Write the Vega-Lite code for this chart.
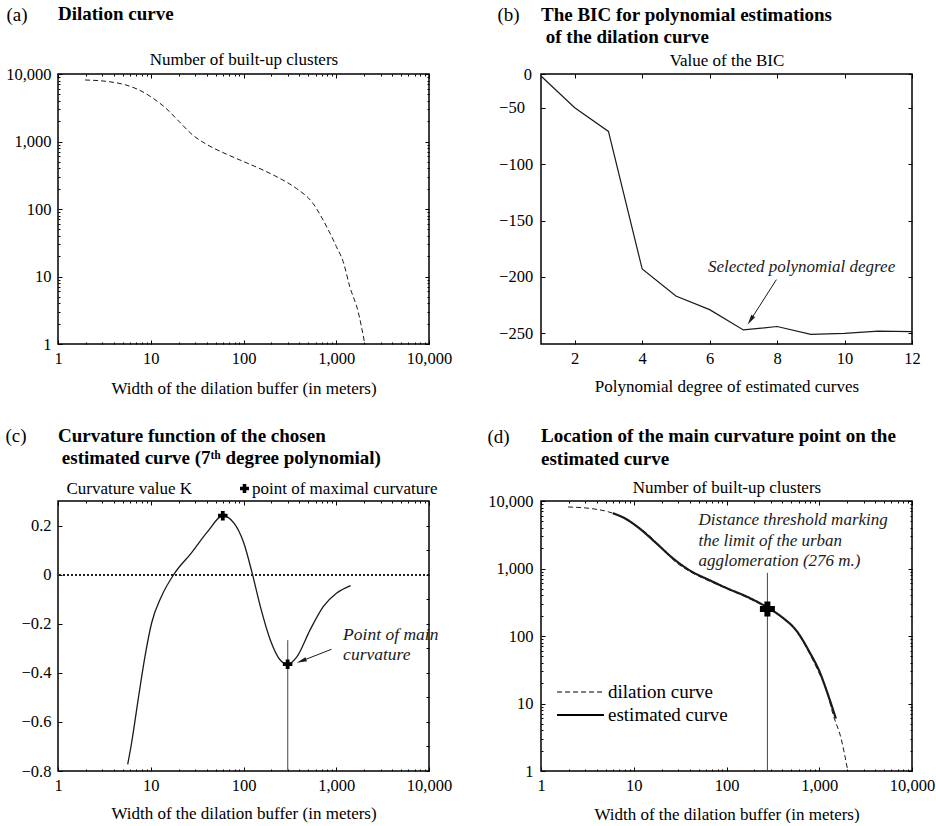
{
"$schema": "https://vega.github.io/schema/vega-lite/v6.json",
"padding": {"left": 4, "top": 4, "right": 0, "bottom": 0},
"background": "white",
"columns": 2,
"spacing": {"row": 157, "column": 112},
"bounds": "flush",
"align": "all",
"datasets": {
 "dilation": [{"w":1.96,"n":8150},{"w":3.56,"n":7690},{"w":5.39,"n":6880},{"w":7.5,"n":5790},{"w":10,"n":4610},{"w":14.6,"n":3100},{"w":20.3,"n":1967},{"w":28.3,"n":1248},{"w":39.4,"n":918},{"w":65,"n":653},{"w":101,"n":502},{"w":162,"n":378},{"w":245,"n":285},{"w":371,"n":202},{"w":562,"n":121},{"w":721,"n":68.8},{"w":1004,"n":27.7},{"w":1187,"n":16.6},{"w":1400,"n":7.06},{"w":1722,"n":3.01},{"w":2033,"n":1}],
 "estimated": [{"w":5.94,"n":6600},{"w":8.28,"n":5400},{"w":11.5,"n":3930},{"w":17.5,"n":2370},{"w":26.4,"n":1420},{"w":40,"n":940},{"w":65.8,"n":670},{"w":99.5,"n":515},{"w":164,"n":385},{"w":285,"n":258},{"w":407,"n":185},{"w":567,"n":120},{"w":790,"n":57},{"w":1014,"n":29},{"w":1247,"n":13.3},{"w":1510,"n":6}],
 "bic": [{"d":1,"bic":-3},{"d":2,"bic":-50},{"d":3,"bic":-71},{"d":4,"bic":-193},{"d":5,"bic":-217},{"d":6,"bic":-229},{"d":7,"bic":-247},{"d":8,"bic":-244},{"d":9,"bic":-251},{"d":10,"bic":-250},{"d":11,"bic":-248},{"d":12,"bic":-248.5}],
 "curv": [{"w":5.64,"k":-0.773},{"w":6.2,"k":-0.688},{"w":7.3,"k":-0.511},{"w":8.65,"k":-0.335},{"w":10.2,"k":-0.198},{"w":13.0,"k":-0.09},{"w":18.1,"k":0.006},{"w":27.2,"k":0.087},{"w":41,"k":0.175},{"w":59.8,"k":0.24},{"w":79,"k":0.21},{"w":101,"k":0.128},{"w":124,"k":0.006},{"w":152,"k":-0.13},{"w":195,"k":-0.267},{"w":249,"k":-0.348},{"w":299,"k":-0.365},{"w":376,"k":-0.335},{"w":521,"k":-0.226},{"w":724,"k":-0.13},{"w":1005,"k":-0.076},{"w":1429,"k":-0.045}]
},
"concat": [
 {
  "width": 371, "height": 270,
  "title": {"text": "Dilation curve", "offset": -19},
  "data": {"name": "dilation"},
  "layer": [
   {"mark": {"type": "line", "strokeDash": [5, 3], "strokeWidth": 1, "color": "#1a1a1a", "interpolate": "monotone"},
    "encoding": {
     "x": {"field": "w", "type": "quantitative", "scale": {"type": "log", "domain": [1, 10000], "nice": false},
       "axis": {"orient": "bottom", "values": [1, 10, 100, 1000, 10000], "format": ",", "ticks": false, "labelBaseline": "alphabetic", "labelPadding": 19, "title": "Width of the dilation buffer (in meters)", "titleX": 185.5, "titleY": 49, "titleAlign": "center", "titleBaseline": "alphabetic"}},
     "y": {"field": "n", "type": "quantitative", "scale": {"type": "log", "domain": [1, 10000], "nice": false},
       "axis": {"orient": "left", "values": [1, 10, 100, 1000, 10000], "format": ",", "ticks": false, "labelPadding": 7, "title": "Number of built-up clusters", "titleAngle": 0, "titleX": 185.5, "titleY": -10, "titleAlign": "center", "titleBaseline": "alphabetic"}}
    }},
   {"mark": {"type": "point", "opacity": 0},
    "encoding": {
     "x": {"field": "w", "type": "quantitative", "scale": {"type": "log", "domain": [1, 10000], "nice": false},
       "axis": {"orient": "bottom", "values": [1,2,3,4,5,6,7,8,9,10,20,30,40,50,60,70,80,90,100,200,300,400,500,600,700,800,900,1000,2000,3000,4000,5000,6000,7000,8000,9000,10000], "labels": false, "title": null, "tickSize": {"condition": {"test": "indexof([1,10,100,1000,10000], datum.value) >= 0", "value": -4}, "value": -2}}},
     "y": {"field": "n", "type": "quantitative", "scale": {"type": "log", "domain": [1, 10000], "nice": false},
       "axis": {"orient": "left", "values": [1,2,3,4,5,6,7,8,9,10,20,30,40,50,60,70,80,90,100,200,300,400,500,600,700,800,900,1000,2000,3000,4000,5000,6000,7000,8000,9000,10000], "labels": false, "tickSize": {"condition": {"test": "indexof([1,10,100,1000,10000], datum.value) >= 0", "value": -4}, "value": -2},
         "title": "(a)", "titleAngle": 0, "titleX": -52, "titleY": -54, "titleAlign": "left", "titleBaseline": "alphabetic", "titleFontSize": 19}}
    }},
   {"mark": {"type": "point", "opacity": 0},
    "encoding": {
     "x": {"field": "w", "type": "quantitative", "scale": {"type": "log", "domain": [1, 10000], "nice": false},
       "axis": {"orient": "top", "values": [1,2,3,4,5,6,7,8,9,10,20,30,40,50,60,70,80,90,100,200,300,400,500,600,700,800,900,1000,2000,3000,4000,5000,6000,7000,8000,9000,10000], "labels": false, "title": null, "tickSize": {"condition": {"test": "indexof([1,10,100,1000,10000], datum.value) >= 0", "value": -4}, "value": -2}}},
     "y": {"field": "n", "type": "quantitative", "scale": {"type": "log", "domain": [1, 10000], "nice": false},
       "axis": {"orient": "right", "values": [1,2,3,4,5,6,7,8,9,10,20,30,40,50,60,70,80,90,100,200,300,400,500,600,700,800,900,1000,2000,3000,4000,5000,6000,7000,8000,9000,10000], "labels": false, "title": null, "tickSize": {"condition": {"test": "indexof([1,10,100,1000,10000], datum.value) >= 0", "value": -4}, "value": -2}}}
    }}
  ],
  "resolve": {"axis": {"x": "independent", "y": "independent"}}
 },
 {
  "width": 371, "height": 270,
  "title": {"text": ["The BIC for polynomial estimations", "\u200b of the dilation curve"], "offset": -41.6},
  "data": {"name": "bic"},
  "layer": [
   {"mark": {"type": "line", "strokeWidth": 1.2, "color": "#1a1a1a"},
    "encoding": {
     "x": {"field": "d", "type": "quantitative", "scale": {"domain": [1, 12], "nice": false, "zero": false},
       "axis": {"orient": "bottom", "values": [2, 4, 6, 8, 10, 12], "format": "d", "ticks": false, "labelBaseline": "alphabetic", "labelPadding": 19, "title": "Polynomial degree of estimated curves", "titleX": 185.5, "titleY": 47, "titleAlign": "center", "titleBaseline": "alphabetic"}},
     "y": {"field": "bic", "type": "quantitative", "scale": {"domain": [-259.5, -50, 0], "range": [270, 33.8, 0], "nice": false, "zero": false},
       "axis": {"orient": "left", "values": [0, -50, -100, -150, -200, -250], "ticks": false, "labelAlign": "left", "labelPadding": 42.4, "labelExpr": "datum.value == 0 ? '\u200b\u2007\u2007\u20070' : datum.label", "title": "Value of the BIC", "titleAngle": 0, "titleX": 185.5, "titleY": -9, "titleAlign": "center", "titleBaseline": "alphabetic"}}
    }},
   {"mark": {"type": "point", "opacity": 0},
    "encoding": {
     "x": {"field": "d", "type": "quantitative", "scale": {"domain": [1, 12], "nice": false, "zero": false},
       "axis": {"orient": "bottom", "values": [2, 4, 6, 8, 10, 12], "labels": false, "title": null, "tickSize": -4}},
     "y": {"field": "bic", "type": "quantitative", "scale": {"domain": [-259.5, -50, 0], "range": [270, 33.8, 0], "nice": false, "zero": false},
       "axis": {"orient": "left", "values": [0, -50, -100, -150, -200, -250], "labels": false, "tickSize": -4,
         "title": "(b)", "titleAngle": 0, "titleX": -44, "titleY": -53.3, "titleAlign": "left", "titleBaseline": "alphabetic", "titleFontSize": 19}}
    }},
   {"mark": {"type": "point", "opacity": 0},
    "encoding": {
     "x": {"field": "d", "type": "quantitative", "scale": {"domain": [1, 12], "nice": false, "zero": false},
       "axis": {"orient": "top", "values": [2, 4, 6, 8, 10, 12], "labels": false, "title": null, "tickSize": -4}},
     "y": {"field": "bic", "type": "quantitative", "scale": {"domain": [-259.5, -50, 0], "range": [270, 33.8, 0], "nice": false, "zero": false},
       "axis": {"orient": "right", "values": [0, -50, -100, -150, -200, -250], "labels": false, "title": null, "tickSize": -4}}
    }},
   {"data": {"values": [{"d": 7.98, "bic": -202.4, "d2": 7.21, "bic2": -238.4}]},
    "mark": {"type": "rule", "strokeWidth": 1, "color": "#1a1a1a"},
    "encoding": {
     "x": {"field": "d", "type": "quantitative", "scale": {"domain": [1, 12], "nice": false, "zero": false}, "axis": null},
     "y": {"field": "bic", "type": "quantitative", "scale": {"domain": [-259.5, -50, 0], "range": [270, 33.8, 0], "nice": false, "zero": false}, "axis": null},
     "x2": {"field": "d2"}, "y2": {"field": "bic2"}
    }},
   {"data": {"values": [{"d": 7.21, "bic": -238.4}]},
    "mark": {"type": "point", "shape": "M0,-1L0.45,1L-0.45,1Z", "filled": true, "color": "#1a1a1a", "size": 100, "angle": 213, "opacity": 1},
    "encoding": {
     "x": {"field": "d", "type": "quantitative", "scale": {"domain": [1, 12], "nice": false, "zero": false}, "axis": null},
     "y": {"field": "bic", "type": "quantitative", "scale": {"domain": [-259.5, -50, 0], "range": [270, 33.8, 0], "nice": false, "zero": false}, "axis": null}
    }},
   {"data": {"values": [{"d": 5.95, "bic": -195.6, "t": "Selected polynomial degree"}]},
    "mark": {"type": "text", "font": "Liberation Serif", "fontStyle": "italic", "fontSize": 17, "align": "left", "baseline": "alphabetic", "color": "#1a1a1a"},
    "encoding": {
     "x": {"field": "d", "type": "quantitative", "scale": {"domain": [1, 12], "nice": false, "zero": false}, "axis": null},
     "y": {"field": "bic", "type": "quantitative", "scale": {"domain": [-259.5, -50, 0], "range": [270, 33.8, 0], "nice": false, "zero": false}, "axis": null},
     "text": {"field": "t"}
    }}
  ],
  "resolve": {"axis": {"x": "independent", "y": "independent"}}
 },
 {
  "width": 371, "height": 270,
  "title": {"text": ["Curvature function of the chosen", "\u200b\u2009estimated curve (7\u1d57\u02b0 degree polynomial)"], "offset": -41.6},
  "data": {"name": "curv"},
  "layer": [
   {"mark": {"type": "line", "strokeWidth": 1.3, "color": "#1a1a1a", "interpolate": "monotone"},
    "encoding": {
     "x": {"field": "w", "type": "quantitative", "scale": {"type": "log", "domain": [1, 10000], "nice": false},
       "axis": {"orient": "bottom", "values": [1, 10, 100, 1000, 10000], "format": ",", "ticks": false, "labelBaseline": "alphabetic", "labelPadding": 19, "title": "Width of the dilation buffer (in meters)", "titleX": 185.5, "titleY": 47, "titleAlign": "center", "titleBaseline": "alphabetic"}},
     "y": {"field": "k", "type": "quantitative", "scale": {"domain": [-0.8, 0.3], "nice": false, "zero": false},
       "axis": {"orient": "left", "values": [-0.8, -0.6, -0.4, -0.2, 0, 0.2], "labelExpr": "datum.value == 0 ? '0' : format(datum.value, '.1f')", "ticks": false, "labelPadding": 7, "title": "Curvature value K", "titleAngle": 0, "titleX": 8, "titleY": -8, "titleAlign": "left", "titleBaseline": "alphabetic"}}
    }},
   {"mark": {"type": "point", "opacity": 0},
    "encoding": {
     "x": {"field": "w", "type": "quantitative", "scale": {"type": "log", "domain": [1, 10000], "nice": false},
       "axis": {"orient": "bottom", "values": [1,2,3,4,5,6,7,8,9,10,20,30,40,50,60,70,80,90,100,200,300,400,500,600,700,800,900,1000,2000,3000,4000,5000,6000,7000,8000,9000,10000], "labels": false, "title": null, "tickSize": {"condition": {"test": "indexof([1,10,100,1000,10000], datum.value) >= 0", "value": -4}, "value": -2}}},
     "y": {"field": "k", "type": "quantitative", "scale": {"domain": [-0.8, 0.3], "nice": false, "zero": false},
       "axis": {"orient": "left", "values": [-0.8, -0.6, -0.4, -0.2, 0, 0.2], "labels": false, "tickSize": -4,
         "title": "(c)", "titleAngle": 0, "titleX": -53, "titleY": -59.3, "titleAlign": "left", "titleBaseline": "alphabetic", "titleFontSize": 19}}
    }},
   {"mark": {"type": "point", "opacity": 0},
    "encoding": {
     "x": {"field": "w", "type": "quantitative", "scale": {"type": "log", "domain": [1, 10000], "nice": false},
       "axis": {"orient": "top", "values": [1,2,3,4,5,6,7,8,9,10,20,30,40,50,60,70,80,90,100,200,300,400,500,600,700,800,900,1000,2000,3000,4000,5000,6000,7000,8000,9000,10000], "labels": false, "title": null, "tickSize": {"condition": {"test": "indexof([1,10,100,1000,10000], datum.value) >= 0", "value": -4}, "value": -2}}},
     "y": {"field": "k", "type": "quantitative", "scale": {"domain": [-0.8, 0.3], "nice": false, "zero": false},
       "axis": {"orient": "right", "values": [-0.8, -0.7, -0.6, -0.5, -0.4, -0.3, -0.2, -0.1, 0, 0.1, 0.2], "labels": false, "title": null, "tickSize": -3}}
    }},
   {"mark": {"type": "rule", "strokeDash": [2, 2], "strokeWidth": 1, "color": "#1a1a1a"},
    "encoding": {
     "y": {"datum": 0, "type": "quantitative", "scale": {"domain": [-0.8, 0.3], "nice": false, "zero": false}, "axis": null}
    }},
   {"data": {"values": [{"w": 300, "k": -0.8, "k2": -0.267}]},
    "mark": {"type": "rule", "strokeWidth": 1, "color": "#444444"},
    "encoding": {
     "x": {"field": "w", "type": "quantitative", "scale": {"type": "log", "domain": [1, 10000], "nice": false}, "axis": null},
     "y": {"field": "k", "type": "quantitative", "scale": {"domain": [-0.8, 0.3], "nice": false, "zero": false}, "axis": null},
     "y2": {"field": "k2"}
    }},
   {"data": {"values": [{"w": 59.8, "k": 0.24, "kind": "point of maximal curvature"}, {"w": 299, "k": -0.365, "kind": "point of maximal curvature"}]},
    "mark": {"type": "point", "filled": true, "color": "black", "size": 90, "opacity": 1},
    "encoding": {
     "x": {"field": "w", "type": "quantitative", "scale": {"type": "log", "domain": [1, 10000], "nice": false}, "axis": null},
     "y": {"field": "k", "type": "quantitative", "scale": {"domain": [-0.8, 0.3], "nice": false, "zero": false}, "axis": null},
     "shape": {"field": "kind", "type": "nominal", "scale": {"range": ["cross"]},
       "legend": {"orient": "none", "legendX": 178, "legendY": 406, "title": null, "padding": 0, "labelFontSize": 17, "labelLimit": 400, "labelOffset": -1, "symbolSize": 80, "symbolFillColor": "black", "symbolStrokeColor": "black", "symbolOpacity": 1}}
    }},
   {"data": {"values": [{"w": 889, "k": -0.304, "w2": 422, "k2": -0.352}]},
    "mark": {"type": "rule", "strokeWidth": 1, "color": "#1a1a1a"},
    "encoding": {
     "x": {"field": "w", "type": "quantitative", "scale": {"type": "log", "domain": [1, 10000], "nice": false}, "axis": null},
     "y": {"field": "k", "type": "quantitative", "scale": {"domain": [-0.8, 0.3], "nice": false, "zero": false}, "axis": null},
     "x2": {"field": "w2"}, "y2": {"field": "k2"}
    }},
   {"data": {"values": [{"w": 422, "k": -0.352}]},
    "mark": {"type": "point", "shape": "M0,-1L0.45,1L-0.45,1Z", "filled": true, "color": "#1a1a1a", "size": 100, "angle": 249, "opacity": 1},
    "encoding": {
     "x": {"field": "w", "type": "quantitative", "scale": {"type": "log", "domain": [1, 10000], "nice": false}, "axis": null},
     "y": {"field": "k", "type": "quantitative", "scale": {"domain": [-0.8, 0.3], "nice": false, "zero": false}, "axis": null}
    }},
   {"data": {"values": [{"w": 1186, "k": -0.2653, "t": "Point of main\ncurvature"}]},
    "mark": {"type": "text", "font": "Liberation Serif", "fontStyle": "italic", "fontSize": 17.5, "align": "left", "baseline": "alphabetic", "lineBreak": "\n", "lineHeight": 20, "color": "#1a1a1a"},
    "encoding": {
     "x": {"field": "w", "type": "quantitative", "scale": {"type": "log", "domain": [1, 10000], "nice": false}, "axis": null},
     "y": {"field": "k", "type": "quantitative", "scale": {"domain": [-0.8, 0.3], "nice": false, "zero": false}, "axis": null},
     "text": {"field": "t"}
    }}
  ],
  "resolve": {"axis": {"x": "independent", "y": "independent"}}
 },
 {
  "width": 371, "height": 270,
  "title": {"text": ["Location of the main curvature point on the", "estimated curve"], "offset": -41.7},
  "data": {"name": "dilation"},
  "layer": [
   {"data": {"name": "dilation"},
    "transform": [{"calculate": "'dilation curve'", "as": "series"}],
    "mark": {"type": "line", "strokeWidth": 1, "color": "#1a1a1a", "interpolate": "monotone"},
    "encoding": {
     "x": {"field": "w", "type": "quantitative", "scale": {"type": "log", "domain": [1, 10000], "nice": false},
       "axis": {"orient": "bottom", "values": [1, 10, 100, 1000, 10000], "format": ",", "ticks": false, "labelBaseline": "alphabetic", "labelPadding": 19, "title": "Width of the dilation buffer (in meters)", "titleX": 185.5, "titleY": 48, "titleAlign": "center", "titleBaseline": "alphabetic"}},
     "y": {"field": "n", "type": "quantitative", "scale": {"type": "log", "domain": [1, 10000], "nice": false},
       "axis": {"orient": "left", "values": [1, 10, 100, 1000, 10000], "format": ",", "ticks": false, "labelPadding": 8, "title": "Number of built-up clusters", "titleAngle": 0, "titleX": 185.5, "titleY": -9, "titleAlign": "center", "titleBaseline": "alphabetic"}},
     "strokeDash": {"field": "series", "type": "nominal", "scale": {"domain": ["dilation curve", "estimated curve"], "range": [[5, 3], [1, 0]]},
       "legend": {"orient": "none", "legendX": 513, "legendY": 608.5, "title": null, "padding": 0, "symbolType": "stroke", "symbolSize": 2200, "symbolStrokeColor": "black", "labelFontSize": 19, "labelOffset": 18, "rowPadding": 3, "encode": {"symbols": {"update": {"strokeWidth": {"signal": "datum.value == 'estimated curve' ? 2.2 : 1"}}}}}}
    }},
   {"data": {"name": "estimated"},
    "transform": [{"calculate": "'estimated curve'", "as": "series"}],
    "mark": {"type": "line", "strokeWidth": 2.2, "color": "#1a1a1a", "interpolate": "monotone"},
    "encoding": {
     "x": {"field": "w", "type": "quantitative", "scale": {"type": "log", "domain": [1, 10000], "nice": false}, "axis": null},
     "y": {"field": "n", "type": "quantitative", "scale": {"type": "log", "domain": [1, 10000], "nice": false}, "axis": null},
     "strokeDash": {"field": "series", "type": "nominal", "scale": {"domain": ["dilation curve", "estimated curve"], "range": [[5, 3], [1, 0]]},
       "legend": {"orient": "none", "legendX": 513, "legendY": 608.5, "title": null, "padding": 0, "symbolType": "stroke", "symbolSize": 2200, "symbolStrokeColor": "black", "labelFontSize": 19, "labelOffset": 18, "rowPadding": 3, "encode": {"symbols": {"update": {"strokeWidth": {"signal": "datum.value == 'estimated curve' ? 2.2 : 1"}}}}}}
    }},
   {"mark": {"type": "point", "opacity": 0},
    "encoding": {
     "x": {"field": "w", "type": "quantitative", "scale": {"type": "log", "domain": [1, 10000], "nice": false},
       "axis": {"orient": "bottom", "values": [1,2,3,4,5,6,7,8,9,10,20,30,40,50,60,70,80,90,100,200,300,400,500,600,700,800,900,1000,2000,3000,4000,5000,6000,7000,8000,9000,10000], "labels": false, "title": null, "tickSize": {"condition": {"test": "indexof([1,10,100,1000,10000], datum.value) >= 0", "value": -4}, "value": -2}}},
     "y": {"field": "n", "type": "quantitative", "scale": {"type": "log", "domain": [1, 10000], "nice": false},
       "axis": {"orient": "left", "values": [1,2,3,4,5,6,7,8,9,10,20,30,40,50,60,70,80,90,100,200,300,400,500,600,700,800,900,1000,2000,3000,4000,5000,6000,7000,8000,9000,10000], "labels": false, "tickSize": {"condition": {"test": "indexof([1,10,100,1000,10000], datum.value) >= 0", "value": -4}, "value": -2},
         "title": "(d)", "titleAngle": 0, "titleX": -54, "titleY": -58.7, "titleAlign": "left", "titleBaseline": "alphabetic", "titleFontSize": 19}}
    }},
   {"mark": {"type": "point", "opacity": 0},
    "encoding": {
     "x": {"field": "w", "type": "quantitative", "scale": {"type": "log", "domain": [1, 10000], "nice": false},
       "axis": {"orient": "top", "values": [1,2,3,4,5,6,7,8,9,10,20,30,40,50,60,70,80,90,100,200,300,400,500,600,700,800,900,1000,2000,3000,4000,5000,6000,7000,8000,9000,10000], "labels": false, "title": null, "tickSize": {"condition": {"test": "indexof([1,10,100,1000,10000], datum.value) >= 0", "value": -4}, "value": -2}}},
     "y": {"field": "n", "type": "quantitative", "scale": {"type": "log", "domain": [1, 10000], "nice": false},
       "axis": {"orient": "right", "values": [1,2,3,4,5,6,7,8,9,10,20,30,40,50,60,70,80,90,100,200,300,400,500,600,700,800,900,1000,2000,3000,4000,5000,6000,7000,8000,9000,10000], "labels": false, "title": null, "tickSize": {"condition": {"test": "indexof([1,10,100,1000,10000], datum.value) >= 0", "value": -4}, "value": -2}}}
    }},
   {"data": {"values": [{"w": 276, "n": 1, "n2": 863}]},
    "mark": {"type": "rule", "strokeWidth": 1, "color": "#444444"},
    "encoding": {
     "x": {"field": "w", "type": "quantitative", "scale": {"type": "log", "domain": [1, 10000], "nice": false}, "axis": null},
     "y": {"field": "n", "type": "quantitative", "scale": {"type": "log", "domain": [1, 10000], "nice": false}, "axis": null},
     "y2": {"field": "n2"}
    }},
   {"data": {"values": [{"w": 276, "n": 252}]},
    "mark": {"type": "point", "shape": "cross", "filled": true, "color": "black", "size": 225, "opacity": 1},
    "encoding": {
     "x": {"field": "w", "type": "quantitative", "scale": {"type": "log", "domain": [1, 10000], "nice": false}, "axis": null},
     "y": {"field": "n", "type": "quantitative", "scale": {"type": "log", "domain": [1, 10000], "nice": false}, "axis": null}
    }},
   {"data": {"values": [{"w": 50, "n": 4355, "t": "Distance threshold marking\nthe limit of the urban\nagglomeration (276 m.)"}]},
    "mark": {"type": "text", "font": "Liberation Serif", "fontStyle": "italic", "fontSize": 17, "align": "left", "baseline": "alphabetic", "lineBreak": "\n", "lineHeight": 20.5, "color": "#1a1a1a"},
    "encoding": {
     "x": {"field": "w", "type": "quantitative", "scale": {"type": "log", "domain": [1, 10000], "nice": false}, "axis": null},
     "y": {"field": "n", "type": "quantitative", "scale": {"type": "log", "domain": [1, 10000], "nice": false}, "axis": null},
     "text": {"field": "t"}
    }}
  ],
  "resolve": {"axis": {"x": "independent", "y": "independent"}}
 }
],
"config": {
 "font": "Liberation Serif",
 "view": {"stroke": "black", "strokeWidth": 1.5},
 "axis": {"domain": false, "grid": false, "labelFont": "Liberation Serif", "labelFontSize": 16.5, "labelColor": "black", "titleFont": "Liberation Serif", "titleFontSize": 17, "titleFontWeight": "normal", "titleColor": "black", "tickColor": "black", "tickWidth": 1, "labelFlush": false, "labelOverlap": false},
 "title": {"font": "Liberation Serif", "fontSize": 19, "fontWeight": "bold", "color": "black", "anchor": "start", "frame": "group", "lineHeight": 22.6},
 "legend": {"labelFont": "Liberation Serif", "labelColor": "black"}
}
}
